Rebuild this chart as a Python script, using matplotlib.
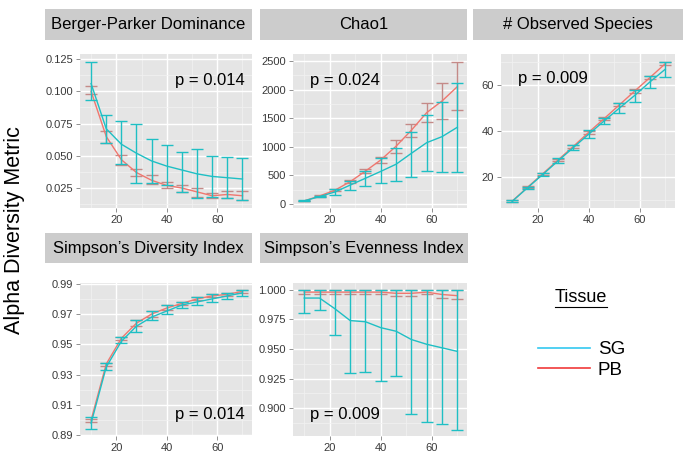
import matplotlib
matplotlib.use("Agg")
import matplotlib.pyplot as plt
from matplotlib.patches import Rectangle
from matplotlib.lines import Line2D
from matplotlib.ticker import AutoMinorLocator, FormatStrFormatter

plt.rcParams["font.family"] = ["Liberation Sans", "DejaVu Sans"]

depth = [10, 16, 22, 28, 34, 40, 46, 52, 58, 64, 70]

# Berger-Parker Dominance
bp_sg = [0.106, 0.071, 0.059, 0.052, 0.046, 0.042, 0.039, 0.036, 0.034, 0.033, 0.032]
bp_sg_lo = [0.093, 0.060, 0.044, 0.029, 0.029, 0.027, 0.022, 0.017, 0.018, 0.017, 0.016]
bp_sg_hi = [0.123, 0.082, 0.077, 0.075, 0.063, 0.058, 0.053, 0.055, 0.050, 0.049, 0.048]
bp_pb = [0.100, 0.065, 0.047, 0.037, 0.031, 0.027, 0.025, 0.022, 0.019, 0.020, 0.019]
bp_pb_lo = [0.098, 0.060, 0.043, 0.034, 0.028, 0.025, 0.022, 0.018, 0.017, 0.017, 0.016]
bp_pb_hi = [0.104, 0.069, 0.051, 0.040, 0.035, 0.030, 0.027, 0.025, 0.021, 0.023, 0.023]

# Chao1
ch_sg = [55, 130, 210, 330, 450, 570, 695, 886, 1072, 1177, 1341]
ch_sg_lo = [45, 115, 150, 240, 310, 372, 407, 477, 577, 554, 565]
ch_sg_hi = [65, 145, 260, 410, 570, 799, 973, 1264, 1556, 1778, 2121]
ch_pb = [55, 140, 240, 390, 575, 770, 1010, 1290, 1597, 1800, 2051]
ch_pb_lo = [50, 130, 220, 360, 540, 711, 897, 1177, 1439, 1486, 1643]
ch_pb_hi = [60, 150, 260, 420, 610, 827, 1119, 1393, 1760, 2110, 2488]

# Observed species
ob_sg = [9.6, 15.5, 21.3, 27.2, 33.0, 38.8, 44.5, 50.1, 55.6, 61.5, 67.0]
ob_sg_lo = [9.2, 15.0, 20.7, 26.4, 32.0, 37.2, 43.2, 48.1, 52.9, 59.0, 63.7]
ob_sg_hi = [10.0, 16.0, 21.9, 28.3, 34.2, 40.6, 45.9, 52.2, 58.0, 64.0, 70.0]
ob_pb = [9.7, 15.7, 21.6, 27.6, 33.5, 39.6, 45.5, 51.5, 57.5, 63.4, 69.4]
ob_pb_lo = [9.4, 15.3, 21.1, 27.0, 32.9, 39.0, 44.8, 50.8, 56.8, 62.7, 68.8]
ob_pb_hi = [10.0, 16.1, 22.1, 28.2, 34.1, 40.2, 46.2, 52.2, 58.2, 64.1, 70.0]

# Simpson's Diversity Index
sd_sg = [0.898, 0.935, 0.952, 0.962, 0.968, 0.972, 0.976, 0.978, 0.980, 0.982, 0.984]
sd_sg_lo = [0.894, 0.933, 0.951, 0.958, 0.966, 0.970, 0.974, 0.976, 0.978, 0.980, 0.982]
sd_sg_hi = [0.902, 0.938, 0.955, 0.966, 0.972, 0.976, 0.978, 0.981, 0.983, 0.984, 0.986]
sd_pb = [0.900, 0.937, 0.954, 0.964, 0.970, 0.974, 0.977, 0.980, 0.982, 0.983, 0.985]
sd_pb_lo = [0.899, 0.936, 0.953, 0.962, 0.968, 0.973, 0.976, 0.979, 0.981, 0.982, 0.984]
sd_pb_hi = [0.901, 0.938, 0.955, 0.966, 0.972, 0.976, 0.978, 0.981, 0.983, 0.984, 0.986]

# Simpson's Evenness Index
se_sg = [0.993, 0.993, 0.984, 0.974, 0.973, 0.968, 0.965, 0.958, 0.954, 0.951, 0.948]
se_sg_lo = [0.980, 0.983, 0.962, 0.930, 0.931, 0.923, 0.927, 0.895, 0.888, 0.887, 0.882]
se_sg_hi = [1.000, 1.000, 1.000, 1.000, 1.000, 1.000, 1.000, 1.000, 1.000, 1.000, 1.000]
se_pb = [0.998, 0.998, 0.998, 0.998, 0.998, 0.998, 0.997, 0.997, 0.998, 0.996, 0.995]
se_pb_lo = [0.996, 0.996, 0.996, 0.996, 0.996, 0.996, 0.995, 0.995, 0.996, 0.993, 0.992]
se_pb_hi = [1.000, 1.000, 1.000, 1.000, 1.000, 1.000, 1.000, 1.000, 1.000, 1.000, 1.000]

titles = ["Berger-Parker Dominance", "Chao1", "# Observed Species",
          "Simpson\u2019s Diversity Index", "Simpson\u2019s Evenness Index"]
pvals = ["p = 0.014", "p = 0.024", "p = 0.009", "p = 0.014", "p = 0.009"]

SG_COL = "#1fbfc4"
PB_COL = "#f0776f"
PB_BAR = "#c48a88"

W, H = 692, 462
fig = plt.figure(figsize=(W / 100, H / 100), dpi=100)


def box(x0, y0, x1, y1):
    # pixel box (top-left origin) -> figure fraction
    return [x0 / W, 1 - y1 / H, (x1 - x0) / W, (y1 - y0) / H]


panels = [
    (box(80, 54, 252, 208), (45, 9, 252, 40)),
    (box(293, 54, 467, 208), (260, 9, 467, 40)),
    (box(501, 54, 675, 208), (473, 9, 683, 40)),
    (box(80, 283, 252, 436), (45, 233, 252, 263)),
    (box(293, 283, 467, 436), (260, 233, 468, 263)),
]

data = [
    (bp_sg, bp_sg_lo, bp_sg_hi, bp_pb, bp_pb_lo, bp_pb_hi),
    (ch_sg, ch_sg_lo, ch_sg_hi, ch_pb, ch_pb_lo, ch_pb_hi),
    (ob_sg, ob_sg_lo, ob_sg_hi, ob_pb, ob_pb_lo, ob_pb_hi),
    (sd_sg, sd_sg_lo, sd_sg_hi, sd_pb, sd_pb_lo, sd_pb_hi),
    (se_sg, se_sg_lo, se_sg_hi, se_pb, se_pb_lo, se_pb_hi),
]

ylims = [(0.0095, 0.129), (-70, 2622), (6.7, 73.6), (0.8895, 0.9905), (0.8766, 1.0057)]
yticks = [[0.025, 0.050, 0.075, 0.100, 0.125], [0, 500, 1000, 1500, 2000, 2500],
          [20, 40, 60], [0.89, 0.91, 0.93, 0.95, 0.97, 0.99],
          [0.900, 0.925, 0.950, 0.975, 1.000]]
yfmts = ["%.3f", "%d", "%d", "%.2f", "%.3f"]
ptext = [(0.96, 0.83, "right"), (0.10, 0.83, "left"), (0.10, 0.84, "left"),
         (0.96, 0.14, "right"), (0.10, 0.14, "left")]

for i, (rect, strip) in enumerate(panels):
    ax = fig.add_axes(rect)
    sg, sg_lo, sg_hi, pb, pb_lo, pb_hi = data[i]
    ax.set_facecolor("#e5e5e5")
    for s in ax.spines.values():
        s.set_visible(False)

    # PB error bars and line
    ax.errorbar(depth, pb, yerr=[[a - b for a, b in zip(pb, pb_lo)],
                                 [b - a for a, b in zip(pb, pb_hi)]],
                fmt="none", ecolor=PB_BAR, elinewidth=1.0, capsize=4, capthick=1.0, zorder=3)
    ax.plot(depth, pb, color=PB_COL, lw=1.0, zorder=4)
    # SG error bars and line
    ax.errorbar(depth, sg, yerr=[[a - b for a, b in zip(sg, sg_lo)],
                                 [b - a for a, b in zip(sg, sg_hi)]],
                fmt="none", ecolor=SG_COL, elinewidth=1.0, capsize=4, capthick=1.0, zorder=5)
    ax.plot(depth, sg, color=SG_COL, lw=1.0, zorder=6)

    ax.set_xlim(5.6, 73.8)
    ax.set_ylim(*ylims[i])
    ax.set_xticks([20, 40, 60])
    ax.set_yticks(yticks[i])
    ax.yaxis.set_major_formatter(FormatStrFormatter(yfmts[i]))
    ax.xaxis.set_minor_locator(AutoMinorLocator(2))
    ax.yaxis.set_minor_locator(AutoMinorLocator(2))
    ax.grid(True, which="major", color="white", lw=1.0, zorder=0)
    ax.grid(True, which="minor", color="#f2f2f2", lw=0.5, zorder=0)
    ax.set_axisbelow(True)
    ax.tick_params(which="major", length=3, width=0.6, color="#7f7f7f",
                   labelsize=8, labelcolor="#3a3a3a", pad=2)
    ax.tick_params(which="minor", length=0)

    tx, ty, ha = ptext[i]
    ax.text(tx, ty, pvals[i], transform=ax.transAxes, ha=ha, va="center",
            fontsize=12, color="black", zorder=10)

    # strip
    x0, y0, x1, y1 = strip
    fig.patches.append(Rectangle((x0 / W, 1 - y1 / H), (x1 - x0) / W, (y1 - y0) / H,
                                 transform=fig.transFigure, facecolor="#cccccc",
                                 edgecolor="none"))
    fig.text((x0 + x1) / 2 / W, 1 - (y0 + y1) / 2 / H, titles[i], ha="center",
             va="center", fontsize=12, color="black")

fig.text(15 / W, 1 - 230 / H, "Alpha Diversity Metric", rotation=90,
         ha="center", va="center", fontsize=15.5)

# legend
fig.text(581 / W, 1 - 298 / H, "Tissue", ha="center", va="center", fontsize=13)
fig.add_artist(Line2D([555 / W, 607 / W], [1 - 307 / H, 1 - 307 / H],
                      transform=fig.transFigure, color="black", lw=0.8))
handles = [Line2D([], [], color="#33c8f0", lw=1.2), Line2D([], [], color="#f03a3a", lw=1.2)]
fig.legend(handles, ["SG", "PB"], loc="center left", bbox_to_anchor=(521 / W, 1 - 360 / H),
           frameon=False, fontsize=13.5, handlelength=2.8, handletextpad=0.4,
           labelspacing=0.2)

fig.savefig("out.png", dpi=100)
